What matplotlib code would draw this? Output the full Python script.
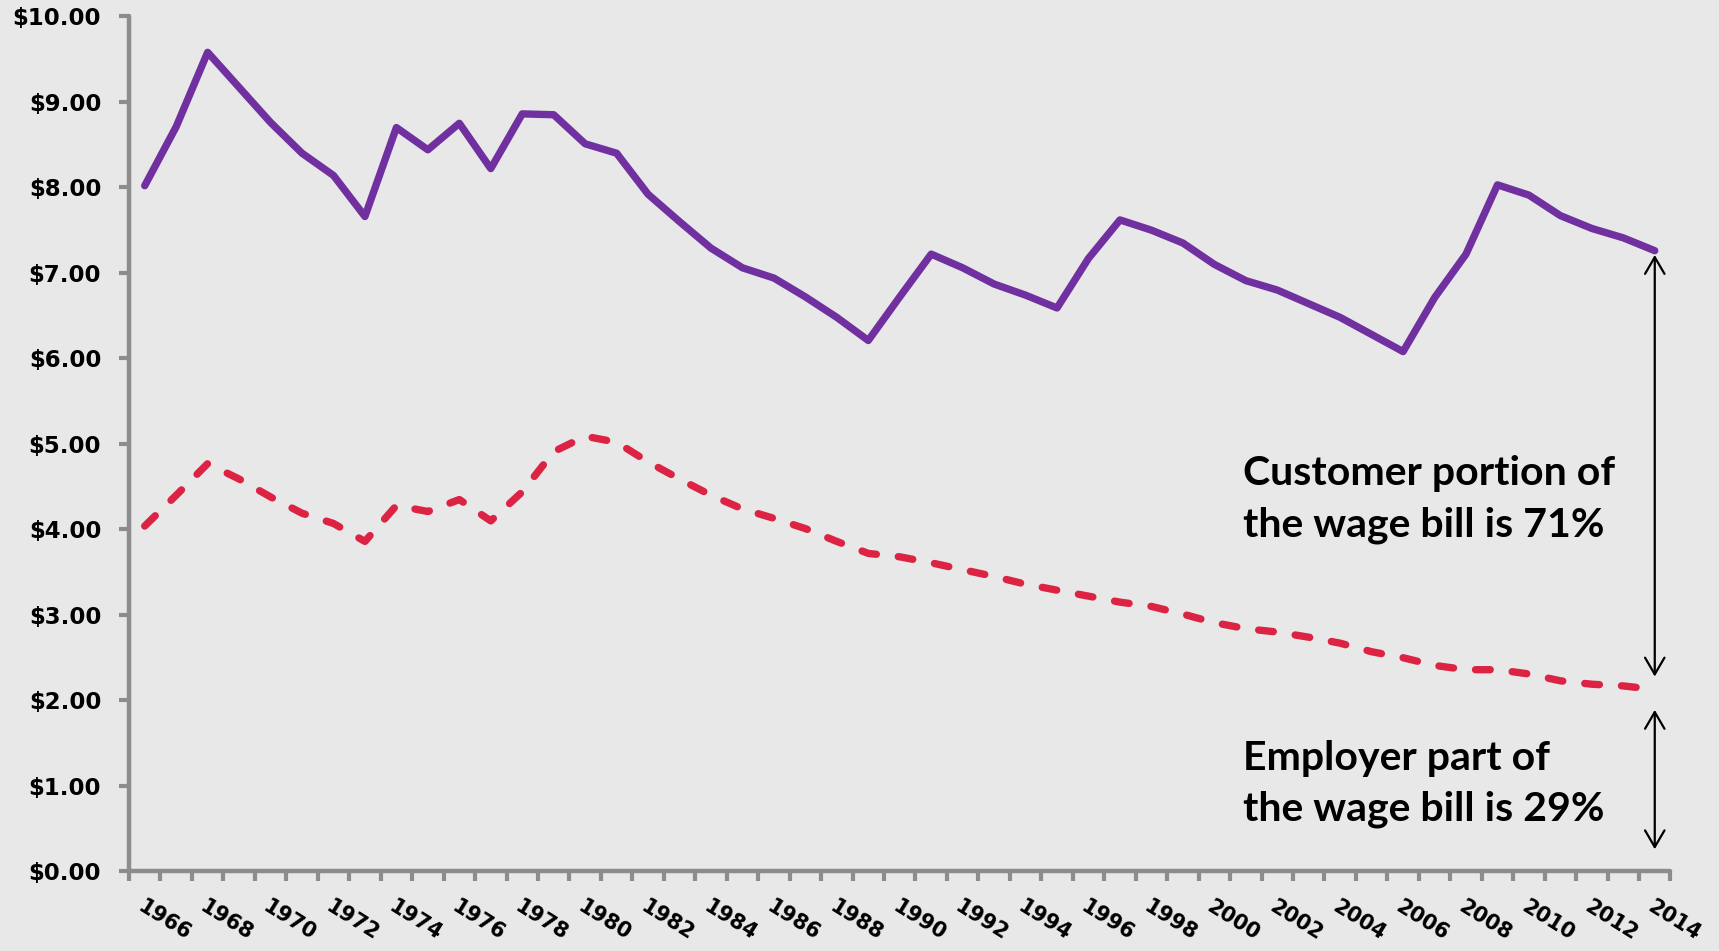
#!/usr/bin/env python3
"""Recreate the wage bill split chart (customer vs employer portion)."""

import matplotlib

matplotlib.use("Agg")
import matplotlib.pyplot as plt
import numpy as np

YEARS = list(range(1966, 2015))

# total hourly wage bill (purple, solid)
TOTAL_WAGE = [
    8.02, 8.71, 9.58, 9.17, 8.76, 8.40, 8.14, 7.66, 8.70, 8.44,
    8.75, 8.22, 8.86, 8.85, 8.51, 8.40, 7.92, 7.60, 7.29, 7.06,
    6.94, 6.72, 6.48, 6.21, 6.72, 7.22, 7.06, 6.87, 6.74, 6.59,
    7.17, 7.62, 7.50, 7.35, 7.10, 6.91, 6.80, 6.64, 6.48, 6.28,
    6.08, 6.71, 7.22, 8.03, 7.91, 7.67, 7.52, 7.41, 7.26,
]

# employer-paid part (red, dashed)
EMPLOYER_PART = [
    4.04, 4.40, 4.77, 4.59, 4.38, 4.19, 4.07, 3.86, 4.28, 4.21,
    4.35, 4.10, 4.44, 4.91, 5.09, 5.02, 4.79, 4.59, 4.40, 4.24,
    4.13, 4.01, 3.86, 3.72, 3.68, 3.61, 3.53, 3.45, 3.36, 3.29,
    3.22, 3.15, 3.10, 3.01, 2.91, 2.84, 2.80, 2.74, 2.67, 2.57,
    2.50, 2.41, 2.36, 2.36, 2.31, 2.23, 2.19, 2.17, 2.13,
]

Y_TICKS = [0, 1, 2, 3, 4, 5, 6, 7, 8, 9, 10]

CUSTOMER_LINES = ["Customer portion of", "the wage bill is 71%"]
EMPLOYER_LINES = ["Employer part of", "the wage bill is 29%"]

BG = "#E8E8E8"
AXIS_GRAY = "#8C8C8C"
PURPLE = "#7030A0"
RED = "#DC2343"


def main() -> None:
    fig = plt.figure(figsize=(17.19, 9.51), dpi=100)
    fig.patch.set_facecolor(BG)
    ax = fig.add_axes([0.07504, 0.0836, 0.89674, 0.89916])
    ax.set_facecolor(BG)

    x = np.arange(len(YEARS))
    ax.plot(x, TOTAL_WAGE, color=PURPLE, lw=5.3,
            solid_joinstyle="round", solid_capstyle="round", zorder=3)
    ax.plot(x, EMPLOYER_PART, color=RED, lw=5.3, linestyle=(0, (2.0, 3.0)),
            dash_capstyle="round", dash_joinstyle="round", zorder=3)

    ax.set_xlim(-0.5, len(YEARS) - 0.5)
    ax.set_ylim(0, 10)

    for side in ("top", "right"):
        ax.spines[side].set_visible(False)
    for side in ("left", "bottom"):
        ax.spines[side].set_color(AXIS_GRAY)
        ax.spines[side].set_linewidth(3.2)
        ax.spines[side].set_capstyle("round")

    ax.set_yticks(Y_TICKS)
    ax.set_yticklabels([f"${v:.2f}" for v in Y_TICKS])
    ax.tick_params(axis="y", length=7, width=3, color=AXIS_GRAY, pad=13,
                   labelsize=16.5)
    for lab in ax.get_yticklabels():
        lab.set_fontweight("bold")

    label_idx = x[::2]
    ax.set_xticks(label_idx)
    ax.set_xticklabels([str(YEARS[i]) for i in label_idx])
    ax.set_xticks(np.arange(-0.5, len(YEARS), 1), minor=True)
    ax.tick_params(axis="x", which="major", length=0, pad=18, labelsize=15)
    ax.tick_params(axis="x", which="minor", length=7, width=3, color=AXIS_GRAY,
                   direction="out")
    for lab in ax.get_xticklabels():
        lab.set_rotation(-32)
        lab.set_ha("left")
        lab.set_va("top")
        lab.set_rotation_mode("anchor")
        lab.set_fontweight("bold")

    # double-headed arrows at the last year
    last = x[-1]
    arrow = dict(arrowstyle="<->,head_length=0.6,head_width=0.35",
                 color="black", lw=1.6, mutation_scale=20,
                 shrinkA=0, shrinkB=0)
    ax.annotate("", xy=(last, 7.21), xytext=(last, 2.28), arrowprops=arrow)
    ax.annotate("", xy=(last, 1.89), xytext=(last, 0.26), arrowprops=arrow)

    text_x = 34.91
    for line, yv in zip(CUSTOMER_LINES, [4.518, 3.914]):
        ax.text(text_x, yv, line, family="Lato", fontweight="bold",
                fontsize=29.5, ha="left", va="baseline", color="black")
    for line, yv in zip(EMPLOYER_LINES, [1.187, 0.602]):
        ax.text(text_x, yv, line, family="Lato", fontweight="bold",
                fontsize=29.5, ha="left", va="baseline", color="black")

    fig.savefig("out.png", dpi=100, facecolor=BG)
    plt.close(fig)


if __name__ == "__main__":
    main()
